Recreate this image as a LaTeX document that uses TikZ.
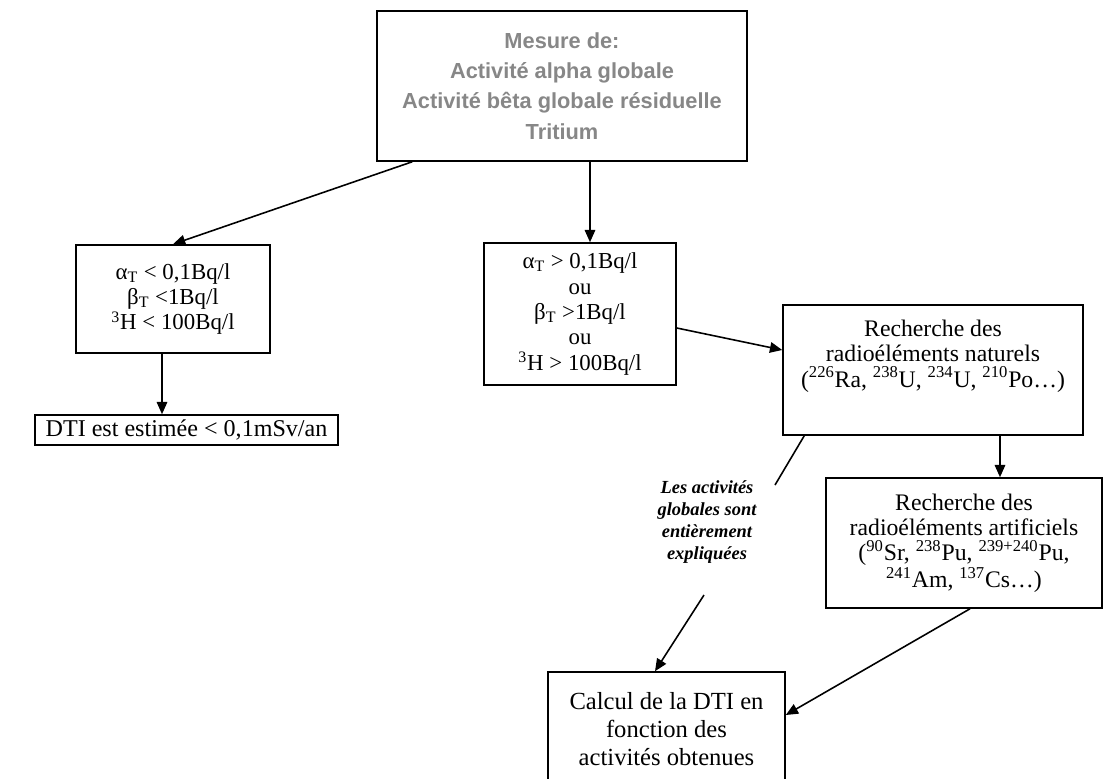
\documentclass[tikz,border=0pt]{standalone}
\usepackage{fontspec}
\setmainfont{Liberation Serif}
\newfontfamily\arialfont{Liberation Sans}
\usetikzlibrary{arrows.meta}
\definecolor{titlegray}{RGB}{135,135,135}

\begin{document}
\begin{tikzpicture}[x=0.02cm,y=-0.02cm,
    box/.style={draw,line width=0.9pt,align=center,inner sep=2pt,
      font={\fontsize{13}{14.5}\selectfont}},
    arr/.style={line width=0.9pt,-{Triangle[length=7pt,width=6pt]}}]
  \clip (0,0) rectangle (1119,778);
  \fill[white] (0,0) rectangle (1119,778);
  % measurement
  \node[box,minimum width=7.4cm,minimum height=3cm,text=titlegray,
    font={\arialfont\bfseries\fontsize{12.4}{17.3}\selectfont}] (mesure) at (562,86)
    {Mesure de:\\ Activité alpha globale\\ Activité bêta globale résiduelle\\ Tritium};
  % below the limits
  \node[box,minimum width=3.88cm,minimum height=2.16cm] (inf) at (173,299)
    {α\textsubscript{T} < 0,1Bq/l\\ β\textsubscript{T} <1Bq/l\\ \textsuperscript{3}H < 100Bq/l};
  \node[box,minimum width=6.06cm,minimum height=0.6cm,
    font={\fontsize{13.7}{15}\selectfont}] (dti) at (186.5,430)
    {DTI est estimée < 0,1mSv/an};
  % above the limits
  \node[box,minimum width=3.84cm,minimum height=2.84cm] (sup) at (580,314)
    {α\textsubscript{T} > 0,1Bq/l\\ ou\\ β\textsubscript{T} >1Bq/l\\ ou\\ \textsuperscript{3}H > 100Bq/l};
  \node[box,minimum width=6cm,minimum height=2.6cm,
    font={\fontsize{13.5}{14.5}\selectfont}] (nat) at (933,370)
    {Recherche des\\ radioéléments naturels\\ (\textsuperscript{226}Ra, \textsuperscript{238}U, \textsuperscript{234}U, \textsuperscript{210}Po…)\\ \strut};
  \node[box,minimum width=5.52cm,minimum height=2.6cm,
    font={\fontsize{13.5}{14.3}\selectfont}] (art) at (964,543)
    {Recherche des\\ radioéléments artificiels\\ (\textsuperscript{90}Sr, \textsuperscript{238}Pu, \textsuperscript{239+240}Pu,\\ \textsuperscript{241}Am, \textsuperscript{137}Cs…)};
  \node[box,minimum width=4.74cm,minimum height=2.28cm,
    font={\fontsize{14}{16}\selectfont}] (calc) at (666.5,729)
    {Calcul de la DTI en\\ fonction des\\ activités obtenues};
  \node[align=center,font={\bfseries\itshape\fontsize{10.5}{12.5}\selectfont}] (expl) at (707,522)
    {Les activités\\ globales sont\\ entièrement\\ expliquées};
  % arrows
  \draw[arr] ([xshift=0.72cm]mesure.south west) -- (inf.north);
  \draw[arr] ([xshift=0.2cm]sup.north |- mesure.south) -- ([xshift=0.2cm]sup.north);
  \draw[arr] ([xshift=-0.22cm]inf.south) -- ([xshift=-0.22cm]inf.south |- dti.north);
  \draw[arr] ([yshift=-0.28cm]sup.east) -- ([yshift=0.4cm]nat.west);
  \draw[arr] ([xshift=1.34cm]nat.south) -- ([xshift=1.34cm]nat.south |- art.north);
  \draw[arr] ([xshift=0.12cm]art.south) -- ([yshift=0.28cm]calc.east);
  \coordinate (cut1) at (775,485);
  \coordinate (cut2) at (704,595);
  \draw[line width=0.9pt] ([xshift=0.44cm]nat.south west) -- (cut1);
  \draw[arr] (cut2) -- ([xshift=-0.23cm]calc.north);
\end{tikzpicture}
\end{document}
